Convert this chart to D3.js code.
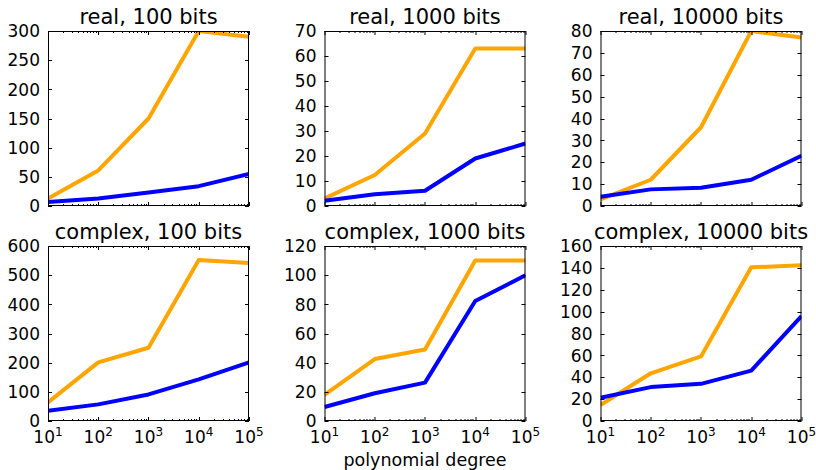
<!DOCTYPE html>
<html>
<head>
<meta charset="utf-8">
<script src="https://cdn.jsdelivr.net/npm/d3@7"></script>
<style>
body { margin: 0; background: #fff; }
svg { display: block; }
text { font-family: "DejaVu Sans", sans-serif; fill: #000; }
</style>
</head>
<body>
<svg id="chart" width="816" height="470"></svg>
<script>
const degrees = [10, 100, 1000, 10000, 100000];
const xTickExponents = [1, 2, 3, 4, 5];
const titles = ["real, 100 bits", "real, 1000 bits", "real, 10000 bits",
                "complex, 100 bits", "complex, 1000 bits", "complex, 10000 bits"];
const yMax = [300, 70, 80, 600, 120, 160];
const yStep = [50, 10, 10, 100, 20, 20];
const orangeSeries = [
  [13, 61, 150, 300, 290],
  [3, 12.4, 29, 63, 63],
  [3, 12, 36, 80, 77],
  [64, 201, 251, 552, 542],
  [18, 42.5, 49, 110, 110],
  [14.6, 43.6, 59, 140.5, 142.4]
];
const blueSeries = [
  [7, 13, 23, 34, 55],
  [2.1, 4.7, 6.1, 19, 25],
  [4.2, 7.6, 8.3, 12, 23],
  [35, 57, 91, 143, 201],
  [9.6, 19, 26.3, 82.3, 100],
  [21.3, 31, 34, 46, 96]
];
const xLabel = "polynomial degree";

const svg = d3.select("#chart");
const colLeft = [48, 324.5, 600.5];
const rowTop = [31, 246];
const W = 201, H = 175;

for (let i = 0; i < 6; i++) {
  const r = Math.floor(i / 3), c = i % 3;
  const g = svg.append("g").attr("transform", `translate(${colLeft[c]},${rowTop[r]})`);
  const x = d3.scaleLog().domain([10, 1e5]).range([0, W]);
  const y = d3.scaleLinear().domain([0, yMax[i]]).range([H, 0]);

  g.append("clipPath").attr("id", "clip" + i)
    .append("rect").attr("width", W).attr("height", H);

  const line = d3.line().x((d, j) => x(degrees[j])).y(d => y(d));
  const pl = g.append("g").attr("clip-path", `url(#clip${i})`);
  pl.append("path").attr("d", line(orangeSeries[i]))
    .attr("fill", "none").attr("stroke", "#FFA500").attr("stroke-width", 4)
    .attr("stroke-linejoin", "round");
  pl.append("path").attr("d", line(blueSeries[i]))
    .attr("fill", "none").attr("stroke", "#0000FF").attr("stroke-width", 4)
    .attr("stroke-linejoin", "round");

  // ticks
  const tk = g.append("g").attr("stroke", "#000").attr("stroke-width", 1);
  const yTicks = d3.range(0, yMax[i] + 1e-9, yStep[i]);
  yTicks.forEach(v => {
    const yy = Math.round(y(v)) + 0.5;
    tk.append("line").attr("x1", 0).attr("x2", 4).attr("y1", yy).attr("y2", yy);
    tk.append("line").attr("x1", W - 4).attr("x2", W).attr("y1", yy).attr("y2", yy);
    g.append("text").attr("x", -8).attr("y", y(v) + 6.2)
      .attr("text-anchor", "end").attr("font-size", 17).text(v);
  });
  const majors = x.ticks().filter(v => Math.abs(Math.log10(v) - Math.round(Math.log10(v))) < 1e-9);
  const minors = [];
  for (let e = 1; e < 5; e++) for (let m = 2; m <= 9; m++) minors.push(m * Math.pow(10, e));
  majors.forEach(v => {
    const xx = Math.round(x(v)) + 0.5;
    tk.append("line").attr("x1", xx).attr("x2", xx).attr("y1", H).attr("y2", H - 4);
    tk.append("line").attr("x1", xx).attr("x2", xx).attr("y1", 0).attr("y2", 4);
  });
  minors.forEach(v => {
    const xx = Math.round(x(v)) + 0.5;
    tk.append("line").attr("x1", xx).attr("x2", xx).attr("y1", H).attr("y2", H - 2);
    tk.append("line").attr("x1", xx).attr("x2", xx).attr("y1", 0).attr("y2", 2);
  });

  if (r === 1) {
    xTickExponents.forEach(e => {
      const t = g.append("text").attr("x", x(Math.pow(10, e))).attr("y", H + 22)
        .attr("text-anchor", "middle").attr("font-size", 17);
      t.append("tspan").text("10");
      t.append("tspan").attr("font-size", 12).attr("dy", -7).text(e);
    });
  }

  g.append("rect").attr("x", 0.5).attr("y", 0.5).attr("width", W - 1).attr("height", H - 1)
    .attr("fill", "none").attr("stroke", "#000").attr("stroke-width", 1);

  g.append("text").attr("x", W / 2).attr("y", -7.5).attr("text-anchor", "middle")
    .attr("font-size", 21).text(titles[i]);
}

svg.append("text").attr("x", colLeft[1] + W / 2).attr("y", 466)
  .attr("text-anchor", "middle").attr("font-size", 17.5).text(xLabel);
</script>
</body>
</html>
